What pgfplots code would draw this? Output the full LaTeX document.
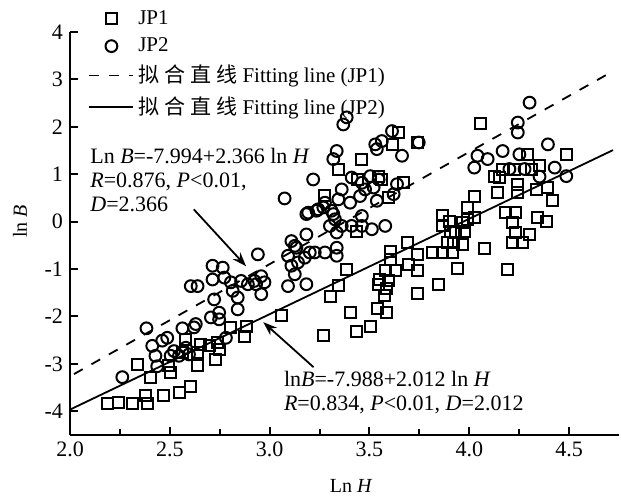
\documentclass[border=0pt]{standalone}
\usepackage{fontspec}
\setmainfont{Liberation Serif}
\newfontfamily\cjk{Noto Sans CJK SC}
\usepackage{pgfplots}
\usepackage{pgfplotstable}
\pgfplotsset{compat=1.18}
\usetikzlibrary{arrows.meta}

% JP1 (squares)
\pgfplotstableread{
x y
2.188 -3.83
2.243 -3.82
2.314 -3.83
2.387 -3.83
2.378 -3.66
2.470 -3.66
2.546 -3.61
2.605 -3.47
2.339 -3.02
2.403 -3.29
2.495 -3.04
2.504 -3.18
2.580 -2.48
2.563 -2.76
2.639 -3.04
2.639 -2.76
2.655 -2.59
2.731 -2.90
2.747 -2.69
2.739 -2.55
2.806 -2.23
2.873 -2.42
2.882 -2.21
2.697 -2.62
3.058 -1.97
3.272 -2.41
3.436 -2.31
3.504 -2.21
3.403 -1.92
3.542 -1.83
3.583 -1.92
3.307 -1.58
3.347 -1.34
3.386 -1.00
3.583 -1.41
3.576 -1.55
3.546 -1.32
3.579 -1.04
3.630 -1.04
3.604 -0.62
3.604 -0.79
3.689 -0.44
3.697 -0.90
3.739 -1.04
3.739 -0.69
3.742 -1.51
3.845 -1.32
3.815 -0.65
3.865 -0.65
3.890 -0.44
3.865 -0.09
3.552 -1.22
3.940 -0.99
4.193 -1.00
4.075 -0.57
3.919 -0.44
3.596 -1.25
3.907 -0.20
3.865 0.14
3.974 -0.20
3.991 0.05
4.025 0.54
3.991 0.30
4.181 0.19
4.234 0.19
4.214 -0.02
4.234 -0.23
4.268 -0.44
4.302 -0.27
4.344 0.09
4.386 0.01
4.142 0.61
4.243 0.61
4.243 0.79
4.151 0.93
4.126 0.96
4.167 1.11
4.226 1.11
4.310 1.11
4.394 0.72
4.416 0.44
4.352 1.18
4.293 1.42
4.486 1.42
4.058 2.08
3.462 1.32
3.344 1.11
3.442 0.89
3.546 0.96
3.562 0.89
3.277 0.56
3.739 1.67
3.613 1.63
3.647 1.88
3.672 0.83
4.335 0.68
3.596 0.51
3.436 -0.20
4.025 0.09
3.899 0.01
3.966 -0.02
3.932 -0.23
3.966 -0.48
3.915 -0.65
4.218 -0.44
}\jpone

% JP2 (circles)
\pgfplotstableread{
x y
2.262 -3.28
2.383 -2.25
2.412 -2.62
2.428 -2.83
2.462 -2.51
2.487 -2.45
2.504 -2.83
2.437 -3.05
2.546 -2.83
2.563 -2.25
2.621 -2.23
2.630 -2.16
2.596 -2.80
2.580 -2.66
2.521 -2.73
2.706 -2.02
2.747 -1.92
2.747 -2.06
2.722 -1.64
2.714 -0.93
2.765 -0.97
2.714 -1.22
2.773 -1.18
2.605 -1.36
2.639 -1.36
2.806 -1.28
2.857 -1.25
2.815 -1.46
2.840 -1.60
2.840 -1.85
2.932 -1.32
2.974 -1.28
2.958 -1.53
2.958 -1.15
2.941 -0.69
2.781 -2.45
2.891 -1.32
2.924 -1.25
3.092 -0.72
3.109 -0.93
3.126 -1.11
3.092 -1.36
3.184 -1.32
3.176 -0.76
3.201 -0.65
3.126 -0.51
3.184 -0.27
3.075 0.49
3.218 0.89
3.184 0.16
3.235 0.23
3.269 0.30
3.277 0.40
3.319 0.16
3.302 -0.09
3.226 -0.65
3.277 -0.65
3.369 2.05
3.386 2.20
3.336 1.49
3.319 1.32
3.361 0.68
3.613 1.91
3.529 1.63
3.537 1.53
3.562 1.70
3.747 1.67
3.663 1.39
3.411 0.93
3.504 0.96
3.462 0.82
3.546 0.89
3.478 0.68
3.521 0.72
3.453 0.54
3.403 0.40
3.344 0.47
3.310 0.23
3.243 0.26
3.193 0.19
3.638 0.79
3.621 0.58
3.537 0.44
3.327 0.05
3.361 -0.09
3.411 -0.09
3.462 0.12
3.462 -0.09
3.512 -0.16
3.579 -0.09
3.336 -0.23
3.109 -0.41
3.134 -0.55
3.142 -0.86
3.336 -0.55
3.336 -0.72
4.302 2.51
4.243 2.09
4.243 1.88
4.167 1.49
4.251 1.42
4.394 1.63
4.041 1.39
4.092 1.32
4.025 1.14
4.201 1.11
4.277 1.11
4.352 0.95
4.428 1.14
4.486 0.96
}\jptwo

\begin{document}
\begin{tikzpicture}
\begin{axis}[
  scale only axis,
  width=274.5pt, height=201.5pt,
  xmin=2, xmax=4.75, ymin=-4.5, ymax=4,
  axis x line*=bottom, axis y line*=left,
  axis line style={line width=1.1pt},
  xtick={2,2.5,3,3.5,4,4.5},
  minor xtick={2.25,2.75,3.25,3.75,4.25},
  ytick={-4,-3,-2,-1,0,1,2,3,4},
  tick align=inside,
  major tick length=4pt, minor tick length=3pt,
  tick style={line width=1pt, black},
  /pgf/number format/assume math mode=true,
  xticklabel style={/pgf/number format/.cd,fixed,fixed zerofill,precision=1},
  tick label style={font=\fontsize{11}{12}\selectfont},
  label style={font=\fontsize{11}{13}\selectfont},
  xlabel={Ln \textit{H}}, ylabel={ln \textit{B}},
  every axis x label/.style={at={(axis description cs:0.512,0)},yshift=-25.5pt,anchor=center},
  every axis y label/.style={at={(axis description cs:0,0.53)},xshift=-25pt,rotate=90,anchor=center},
  legend style={at={(rel axis cs:0.033,1.065)}, anchor=north west, draw=none, fill=none,
    font=\fontsize{10.5}{12}\selectfont, row sep=1.3pt, inner sep=0pt},
  legend cell align=left,
  legend image code/.code={\draw[mark repeat=2,mark phase=2,#1] plot coordinates {(0pt,0pt) (11pt,0pt) (22pt,0pt)};},
  clip=false,
]
\addplot[only marks, mark=square, mark size=2.75pt, mark options={line width=1pt, fill=none, draw=black}] table {\jpone};
\addlegendentry{JP1}
\addplot[only marks, mark=o, mark size=2.95pt, mark options={line width=1pt, draw=black}] table {\jptwo};
\addlegendentry{JP2}
\addplot[black, line width=0.9pt, dash pattern=on 5pt off 5pt] coordinates {(2.02,-3.215) (4.72,3.174)};
\addlegendentry{{\cjk 拟\hspace{2.5pt}合\hspace{2.5pt}直\hspace{2.5pt}线} Fitting line (JP1)}
\addplot[black, line width=0.9pt] coordinates {(2,-3.964) (4.72,1.509)};
\addlegendentry{{\cjk 拟\hspace{2.5pt}合\hspace{2.5pt}直\hspace{2.5pt}线} Fitting line (JP2)}

\node[anchor=north west, align=left, inner sep=0pt, font=\fontsize{11}{12}\selectfont]
  at (axis cs:2.10,1.55) {Ln \textit{B}=-7.994+2.366 ln \textit{H}\\ \textit{R}=0.876, \textit{P}<0.01,\\ \textit{D}=2.366};
\node[anchor=north west, align=left, inner sep=0pt, font=\fontsize{11}{12}\selectfont]
  at (axis cs:3.07,-3.14) {ln\textit{B}=-7.988+2.012 ln \textit{H}\\ \textit{R}=0.834, \textit{P}<0.01, \textit{D}=2.012};
\draw[line width=0.9pt, -{Stealth[length=7pt,width=5pt]}] (axis cs:2.620,0.26) -- (axis cs:2.882,-0.94);
\draw[line width=0.9pt, -{Stealth[length=7pt,width=5pt]}] (axis cs:3.220,-3.07) -- (axis cs:2.968,-2.12);
\end{axis}
\pgfresetboundingbox
\useasboundingbox (-35pt,-31pt) rectangle (275.5pt,217.5pt);
\end{tikzpicture}
\end{document}
